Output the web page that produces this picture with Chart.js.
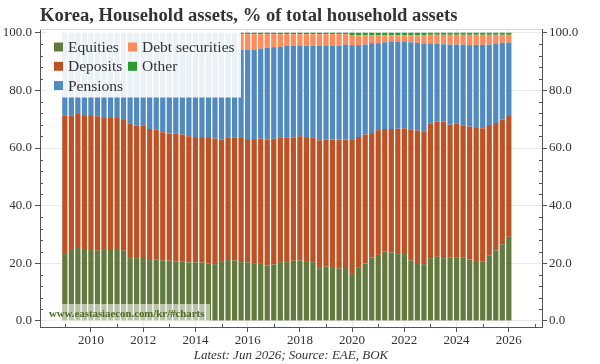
<!DOCTYPE html>
<html>
<head>
<meta charset="utf-8">
<script src="https://cdn.jsdelivr.net/npm/chart.js@4.4.1/dist/chart.umd.min.js"></script>
<style>
    body { margin: 0; background: #fff; }
</style>
</head>
<body>
<canvas id="myChart" width="600" height="364"></canvas>
<script>
// quarterly data, 2009Q1 .. 2026Q1
var firstYear = 2009;
var nQuarters = 69;
var quarters = [];
for (var i = 0; i < nQuarters; i++) {
    quarters.push((firstYear + Math.floor(i / 4)) + 'Q' + (i % 4 + 1));
}

var equities = [23.2, 24.6, 25.3, 25.0, 24.6, 24.4, 24.6, 25.0, 25.0, 24.4,
    21.8, 21.8, 22.2, 21.1, 21.2, 21.0, 21.0, 20.7, 20.7, 20.3,
    20.3, 20.3, 19.9, 19.7, 20.5, 21.1, 21.0, 20.4, 20.3, 19.8,
    19.8, 19.2, 19.6, 20.4, 20.4, 20.9, 21.0, 20.5, 20.4, 18.3,
    18.9, 18.7, 18.2, 18.4, 16.6, 18.5, 19.9, 22.1, 22.9, 24.1,
    23.8, 23.2, 23.2, 21.0, 20.1, 19.7, 21.8, 22.3, 21.8, 22.1,
    22.1, 21.9, 21.3, 20.8, 20.5, 22.8, 24.5, 26.6, 29.2];
var deposits = [48.2, 46.8, 46.5, 46.1, 46.5, 46.6, 45.8, 45.4, 45.4, 45.3,
    46.8, 46.0, 45.7, 45.5, 45.2, 44.5, 44.0, 44.3, 44.0, 43.8,
    43.5, 43.5, 43.9, 43.6, 42.4, 42.4, 42.7, 43.1, 42.8, 43.3,
    43.5, 43.7, 43.6, 43.1, 43.3, 42.8, 43.1, 43.3, 43.3, 44.4,
    44.0, 44.2, 44.8, 44.6, 46.2, 45.3, 44.8, 43.1, 43.3, 42.5,
    42.8, 43.5, 43.6, 45.4, 46.0, 46.0, 46.8, 46.9, 47.4, 46.0,
    46.4, 46.0, 46.1, 46.2, 46.4, 45.2, 44.2, 43.3, 42.2];
var pensions = [28.6, 28.6, 28.2, 28.9, 28.9, 29.0, 29.6, 29.6, 29.6, 30.3,
    31.4, 32.2, 32.1, 33.4, 33.6, 34.5, 35.0, 35.0, 35.3, 35.9,
    36.2, 36.2, 36.2, 36.7, 37.1, 36.5, 36.3, 30.5, 30.9, 31.1,
    31.2, 31.9, 31.8, 31.6, 31.7, 31.8, 31.5, 31.7, 31.8, 32.7,
    32.7, 32.7, 32.5, 32.9, 32.9, 31.9, 31.2, 31.2, 30.2, 30.1,
    30.4, 30.2, 30.2, 30.3, 30.4, 30.6, 27.7, 27.0, 26.8, 27.8,
    27.4, 28.0, 28.3, 28.8, 28.9, 27.9, 27.6, 26.6, 25.2];
var debtSecurities = [0, 0, 0, 0, 0, 0, 0, 0, 0, 0,
    0, 0, 0, 0, 0, 0, 0, 0, 0, 0,
    0, 0, 0, 0, 0, 0, 0, 5.5, 5.5, 5.3,
    5.0, 4.7, 4.5, 4.4, 4.1, 4.0, 3.9, 4.0, 4.0, 4.1,
    3.9, 3.9, 4.0, 3.6, 3.4, 3.4, 3.2, 2.7, 2.7, 2.4,
    2.1, 2.2, 2.1, 2.4, 2.6, 2.8, 3.0, 3.1, 3.3, 3.4,
    3.4, 3.4, 3.6, 3.5, 3.5, 3.4, 3.0, 2.8, 2.7];
var other = [0, 0, 0, 0, 0, 0, 0, 0, 0, 0,
    0, 0, 0, 0, 0, 0, 0, 0, 0, 0,
    0, 0, 0, 0, 0, 0, 0, 0.5, 0.5, 0.5,
    0.5, 0.5, 0.5, 0.5, 0.5, 0.5, 0.5, 0.5, 0.5, 0.5,
    0.5, 0.5, 0.5, 0.5, 0.9, 0.9, 0.9, 0.9, 0.9, 0.9,
    0.9, 0.9, 0.9, 0.9, 0.9, 0.9, 0.7, 0.7, 0.7, 0.7,
    0.7, 0.7, 0.7, 0.7, 0.7, 0.7, 0.7, 0.7, 0.7];

var seriesNames = ['Equities', 'Deposits', 'Pensions', 'Debt securities', 'Other'];
var seriesColors = ['#627a3d', '#bd5224', '#518abf', '#ff8c5a', '#2c9a2c'];
var yTicks = [0, 20, 40, 60, 80, 100];
var xTicks = [2010, 2012, 2014, 2016, 2018, 2020, 2022, 2024, 2026];

var titleText = 'Korea, Household assets, % of total household assets';
var captionText = 'Latest: Jun 2026; Source: EAE, BOK';
var watermarkText = 'www.eastasiaecon.com/kr/#charts';

var serif = '"Liberation Serif", "Times New Roman", serif';
var textColor = '#333';

function quarterToX(q) {
    return parseInt(q.slice(0, 4)) + (parseInt(q.slice(5)) - 1) / 4;
}

function toPoints(values) {
    var pts = [];
    for (var i = 0; i < values.length; i++) {
        pts.push({ x: quarterToX(quarters[i]), y: values[i] });
    }
    return pts;
}

var allSeries = [equities, deposits, pensions, debtSecurities, other];
var datasets = [];
for (var s = 0; s < allSeries.length; s++) {
    datasets.push({
        label: seriesNames[s],
        data: toPoints(allSeries[s]),
        backgroundColor: seriesColors[s],
        borderWidth: 0,
        barPercentage: 0.8,
        categoryPercentage: 1.0
    });
}

function setTicks(list) {
    return function(scale) {
        scale.ticks = list.map(function(v) { return { value: v }; });
    };
}

var extras = {
    id: 'extras',
    afterDraw: function(chart) {
        var ctx = chart.ctx;
        var area = chart.chartArea;
        var xs = chart.scales.x;
        var ys = chart.scales.y;
        ctx.save();

        // top frame line
        ctx.strokeStyle = '#d6d6d6';
        ctx.lineWidth = 1;
        ctx.beginPath();
        ctx.moveTo(area.left, Math.round(area.top) + 0.5);
        ctx.lineTo(area.right, Math.round(area.top) + 0.5);
        ctx.stroke();

        // minor ticks
        ctx.strokeStyle = '#555';
        ctx.beginPath();
        for (var v = 4; v < 100; v += 4) {
            if (v % 20 === 0) continue;
            var py = Math.round(ys.getPixelForValue(v)) + 0.5;
            ctx.moveTo(area.left, py);
            ctx.lineTo(area.left + 3, py);
            ctx.moveTo(area.right, py);
            ctx.lineTo(area.right - 3, py);
        }
        for (var yr = 2009; yr <= 2027; yr += 2) {
            var px = Math.round(xs.getPixelForValue(yr)) + 0.5;
            ctx.moveTo(px, area.bottom);
            ctx.lineTo(px, area.bottom - 3);
        }
        ctx.stroke();

        // watermark
        ctx.fillStyle = 'rgba(255,255,255,0.55)';
        ctx.fillRect(area.left + 6, area.bottom - 23, 164, 18);
        ctx.font = 'bold 10.8px ' + serif;
        ctx.fillStyle = '#4e6a22';
        ctx.textBaseline = 'alphabetic';
        ctx.textAlign = 'left';
        ctx.fillText(watermarkText, area.left + 9, area.bottom - 10);

        // legend box
        ctx.fillStyle = 'rgba(255,255,255,0.88)';
        ctx.fillRect(area.left + 6, area.top + 1.5, 195, 67);
        ctx.font = '15.5px ' + serif;
        ctx.textBaseline = 'middle';
        for (var k = 0; k < seriesNames.length; k++) {
            var col = Math.floor(k / 3);
            var row = k % 3;
            var lx = area.left + 14 + col * 74;
            var ly = area.top + 18 + row * 19.3;
            ctx.fillStyle = seriesColors[k];
            ctx.fillRect(lx, ly - 4.5, 9, 9);
            ctx.fillStyle = textColor;
            ctx.fillText(seriesNames[k], lx + 14, ly + 1);
        }

        // title
        ctx.font = 'bold 18.6px ' + serif;
        ctx.fillStyle = textColor;
        ctx.textBaseline = 'alphabetic';
        ctx.textAlign = 'left';
        ctx.fillText(titleText, area.left, 21);

        // caption
        ctx.font = 'italic 13px ' + serif;
        ctx.textAlign = 'center';
        ctx.fillText(captionText, (area.left + area.right) / 2, 359);

        ctx.restore();
    }
};

var tickFont = { family: serif, size: 13 };

const ctx = document.getElementById('myChart').getContext('2d');
const myChart = new Chart(ctx, {
    type: 'bar',
    data: { datasets: datasets },
    plugins: [extras],
    options: {
        responsive: false,
        animation: false,
        devicePixelRatio: 1,
        layout: { padding: { top: 29, bottom: 17, left: 0, right: 0 } },
        plugins: {
            legend: { display: false },
            title: { display: false },
            tooltip: { enabled: false }
        },
        scales: {
            x: {
                type: 'linear',
                stacked: true,
                offset: false,
                min: 2008.05,
                max: 2027.27,
                afterBuildTicks: setTicks(xTicks),
                afterFit: function(scale) { scale.height = 20; },
                grid: { offset: false, color: '#e8e8e8', tickColor: '#555', tickLength: 5 },
                border: { color: '#555' },
                ticks: {
                    font: tickFont, color: textColor, padding: 1, maxRotation: 0, autoSkip: false,
                    callback: function(v) { return String(v); }
                }
            },
            y: {
                stacked: true,
                position: 'left',
                min: -2.1,
                max: 101.3,
                afterBuildTicks: setTicks(yTicks),
                afterFit: function(scale) { scale.width = 40; },
                grid: { color: '#e8e8e8', tickColor: '#555', tickLength: 5 },
                border: { color: '#555' },
                ticks: {
                    font: tickFont, color: textColor, padding: 3,
                    callback: function(v) { return v.toFixed(1); }
                }
            },
            y2: {
                position: 'right',
                min: -2.1,
                max: 101.3,
                afterBuildTicks: setTicks(yTicks),
                afterFit: function(scale) { scale.width = 58; },
                grid: { drawOnChartArea: false, tickColor: '#555', tickLength: 5 },
                border: { color: '#555' },
                ticks: {
                    font: tickFont, color: textColor, padding: 2,
                    callback: function(v) { return v.toFixed(1); }
                }
            }
        }
    }
});
</script>
</body>
</html>
